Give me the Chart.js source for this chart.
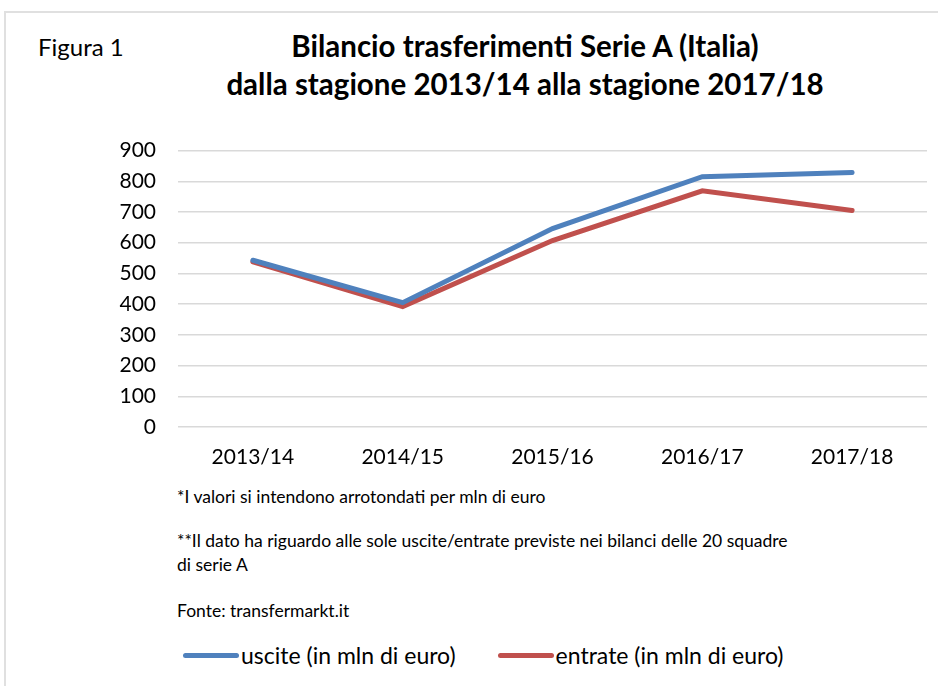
<!DOCTYPE html>
<html>
<head>
<meta charset="utf-8">
<script src="https://cdn.jsdelivr.net/npm/chart.js@4/dist/chart.umd.min.js"></script>
<style>
  body { margin: 0; background: #fff; font-family: Lato, sans-serif; color: #000; }
  #page { position: relative; width: 938px; height: 686px; overflow: hidden; }
  #frame { position: absolute; left: 4px; top: 11px; width: 1000px; height: 1000px;
           border-left: 2px solid #e0e0e0; border-top: 2px solid #e0e0e0; }
  #fig { position: absolute; left: 38px; top: 32px; font-size: 24px; }
  #title { position: absolute; left: 0; width: 1050px; top: 27px; text-align: center;
           font-weight: bold; font-size: 29.5px; line-height: 38px; }
  #chartBox { position: absolute; left: 0; top: 116px; width: 938px; height: 353px; }
  .note { position: absolute; left: 177px; font-size: 17.5px; line-height: 24px; white-space: nowrap; }
  #legend { position: absolute; left: 183px; top: 641px; font-size: 23px; display: flex; }
  .item { display: flex; align-items: center; margin-right: 42px; }
  .swatch { width: 56px; height: 5px; border-radius: 3px; margin-right: 2px; }
</style>
</head>
<body>
<div id="page">
  <div id="frame"></div>
  <div id="fig">Figura 1</div>
  <div id="title">Bilancio trasferimenti Serie A (Italia)<br>dalla stagione 2013/14 alla stagione 2017/18</div>
  <div id="chartBox"><canvas id="myChart"></canvas></div>
  <div class="note" style="top:485px">*I valori si intendono arrotondati per mln di euro</div>
  <div class="note" style="top:529px">**Il dato ha riguardo alle sole uscite/entrate previste nei bilanci delle 20 squadre<br>di serie A</div>
  <div class="note" style="top:599px">Fonte: transfermarkt.it</div>
  <div id="legend"></div>
</div>
<script>
const seasons = ["2013/14", "2014/15", "2015/16", "2016/17", "2017/18"];
const uscite = [543, 405, 646, 815, 829];
const entrate = [538, 392, 607, 769, 705];
const seriesNames = ["uscite (in mln di euro)", "entrate (in mln di euro)"];
const seriesColors = ["#4f81bd", "#c0504d"];

let ctx = document.getElementById("myChart").getContext("2d");

let myChart = new Chart(ctx, {
  type: "line",
  data: {
    labels: seasons,
    datasets: [
      {
        label: seriesNames[0],
        data: uscite,
        borderColor: seriesColors[0],
        backgroundColor: seriesColors[0],
        borderWidth: 5,
        pointRadius: 0,
        borderCapStyle: "round",
        tension: 0,
      },
      {
        label: seriesNames[1],
        data: entrate,
        borderColor: seriesColors[1],
        backgroundColor: seriesColors[1],
        borderWidth: 5,
        pointRadius: 0,
        borderCapStyle: "round",
        tension: 0,
      },
    ],
  },
  options: {
    responsive: true,
    maintainAspectRatio: false,
    animation: false,
    layout: { padding: { left: 0, right: 11, top: 20, bottom: 0 } },
    plugins: {
      legend: { display: false },
      tooltip: { enabled: false },
    },
    scales: {
      x: {
        offset: true,
        grid: { display: false, drawTicks: false },
        border: { display: false },
        ticks: { padding: 18, color: "#000", font: { family: "Lato", size: 21 } },
        afterFit: (scale) => { scale.height = 42; },
      },
      y: {
        min: 0,
        max: 900,
        ticks: { stepSize: 100, padding: 22, color: "#000", font: { family: "Lato", size: 21 } },
        grid: { color: "#d9d9d9", lineWidth: 1.5, drawTicks: false },
        border: { display: false },
        afterFit: (scale) => { scale.width = 178; },
      },
    },
  },
});

// legend built from the dataset names
const legend = document.getElementById("legend");
seriesNames.forEach((name, i) => {
  const item = document.createElement("div");
  item.className = "item";
  item.innerHTML = '<span class="swatch" style="background:' + seriesColors[i] + '"></span>' + name;
  legend.appendChild(item);
});
</script>
</body>
</html>
